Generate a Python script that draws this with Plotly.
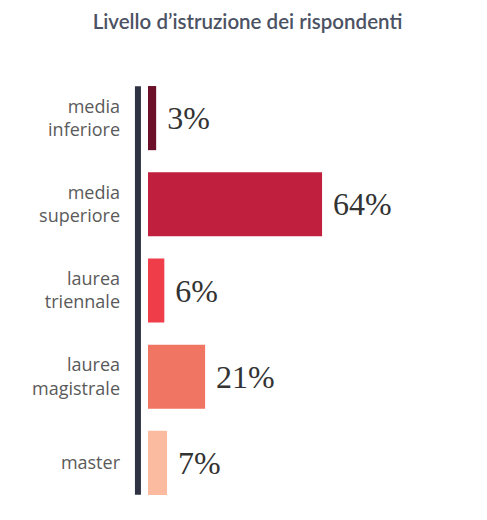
import plotly.graph_objects as go

# dati
categories = ['media<br>inferiore', 'media<br>superiore', 'laurea<br>triennale',
              'laurea<br>magistrale', 'master']
values = [3, 64, 6, 21, 7]
colors = ['#6b1028', '#c0203d', '#ef3e4a', '#f07562', '#fbbba0']

fig = go.Figure()

fig.add_trace(go.Bar(
    y=categories, x=values, orientation='h',
    marker=dict(color=colors, line=dict(width=0)),
    texttemplate='\u00a0%{x}%', textposition='outside', cliponaxis=False,
    textfont=dict(family='Liberation Serif', size=32, color='#333333'),
    showlegend=False
))

# linea verticale dell'asse
fig.add_shape(type='line', xref='x', yref='y',
              x0=-3.7, x1=-3.7, y0=-0.37, y1=4.37,
              line=dict(color='#2e3243', width=6))

fig.update_layout(
    width=479, height=512,
    title=dict(text="Livello d’istruzione dei rispondenti",
               x=0.5, xanchor='center', y=0.973, yanchor='middle', yref='container',
               font=dict(family='Lato', size=20.5, color='#4b5263', weight=600)),
    plot_bgcolor='white', paper_bgcolor='white',
    bargap=0.256,
    margin=dict(l=122, r=17, t=67, b=14)
)

fig.update_xaxes(range=[-6.62, 118.4], visible=False, showgrid=False, zeroline=False)
fig.update_yaxes(autorange='reversed', showgrid=False, zeroline=False, showline=False,
                 ticks='', ticklabelstandoff=9,
                 tickfont=dict(family='Open Sans', size=18, color='#5a5a5a'))

fig.write_html("out.html")
